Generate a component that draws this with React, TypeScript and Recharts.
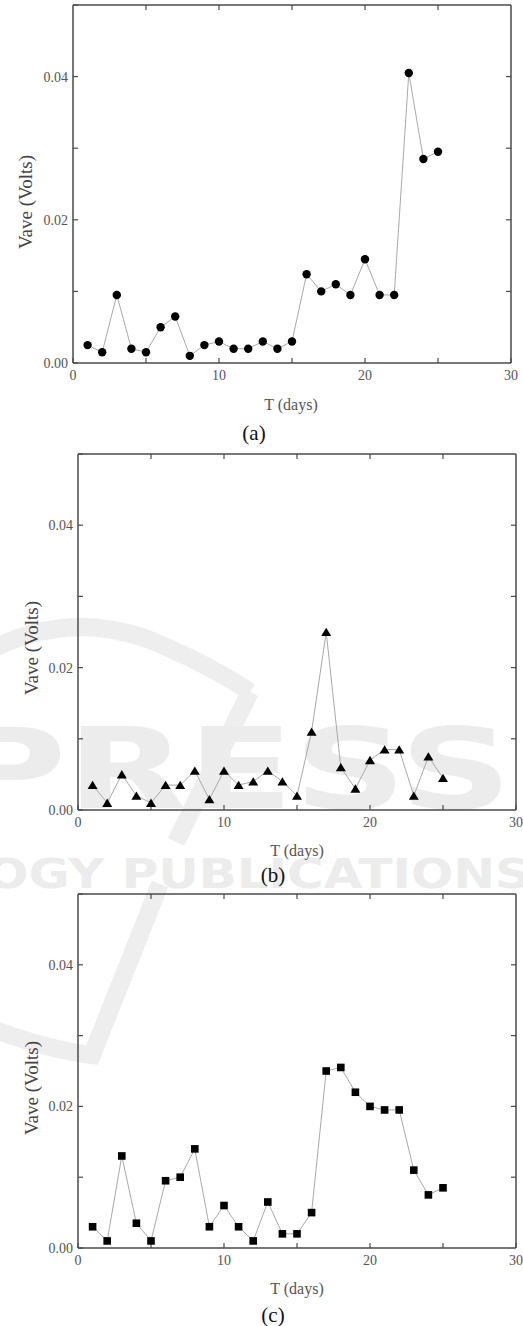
import React from 'react';
import { Line, LineChart, XAxis, YAxis } from 'recharts';

// sampling days and measured average voltage per sensor
const days = [1, 2, 3, 4, 5, 6, 7, 8, 9, 10, 11, 12, 13, 14, 15, 16, 17, 18, 19, 20, 21, 22, 23, 24, 25];
const vaveA = [0.0025, 0.0015, 0.0095, 0.002, 0.0015, 0.005, 0.0065, 0.001, 0.0025, 0.003, 0.002, 0.002, 0.003, 0.002, 0.003, 0.0124, 0.01, 0.011, 0.0095, 0.0145, 0.0095, 0.0095, 0.0405, 0.0285, 0.0295];
const vaveB = [0.0035, 0.001, 0.005, 0.002, 0.001, 0.0035, 0.0035, 0.0055, 0.0015, 0.0055, 0.0035, 0.004, 0.0055, 0.004, 0.002, 0.011, 0.025, 0.006, 0.003, 0.007, 0.0085, 0.0085, 0.002, 0.0075, 0.0045];
const vaveC = [0.003, 0.001, 0.013, 0.0035, 0.001, 0.0095, 0.01, 0.014, 0.003, 0.006, 0.003, 0.001, 0.0065, 0.002, 0.002, 0.005, 0.025, 0.0255, 0.022, 0.02, 0.0195, 0.0195, 0.011, 0.0075, 0.0085];

const xTicks = [0, 5, 10, 15, 20, 25, 30];
const xLabels = [0, 10, 20, 30];
const yTicks = [0, 0.01, 0.02, 0.03, 0.04, 0.05];
const yLabels = [0, 0.02, 0.04];

const SERIF = 'Liberation Serif, Times New Roman, serif';
const AXIS = '#4a4a4a';
const tickText = { fill: '#555', fontSize: 14, fontFamily: SERIF };

const fmtX = (v: number) => (xLabels.includes(v) ? String(v) : '');
const fmtY = (v: number) => (yLabels.some((l) => Math.abs(l - v) < 1e-9) ? v.toFixed(2) : '');

const CircleDot = (p: any) => <circle key={p.index} cx={p.cx} cy={p.cy} r={4.2} fill="#000" />;
const TriangleDot = (p: any) => (
  <path key={p.index} d={`M${p.cx},${p.cy - 4.3} L${p.cx + 5},${p.cy + 4} L${p.cx - 5},${p.cy + 4} Z`} fill="#000" />
);
const SquareDot = (p: any) => <rect key={p.index} x={p.cx - 3.8} y={p.cy - 3.8} width={7.6} height={7.6} fill="#000" />;

interface PanelProps {
  values: number[];
  dot: (p: any) => React.ReactElement;
  top: number;
  height: number;
  yAxisWidth: number;
  margin: { top: number; right: number; bottom: number; left: number };
}

const Panel: React.FC<PanelProps> = ({ values, dot, top, height, yAxisWidth, margin }) => {
  const data = days.map((t, i) => ({ t, v: values[i] }));
  return (
    <div style={{ position: 'absolute', left: 0, top, width: 523, height }}>
      <LineChart width={523} height={height} data={data} margin={margin}>
        <XAxis
          dataKey="t"
          type="number"
          domain={[0, 30]}
          ticks={xTicks}
          interval={0}
          tickFormatter={fmtX}
          tickSize={-5}
          tickMargin={12}
          height={30}
          tick={tickText}
          axisLine={{ stroke: AXIS, strokeWidth: 1.5 }}
          tickLine={{ stroke: AXIS, strokeWidth: 1.2 }}
        />
        <XAxis
          xAxisId="top"
          orientation="top"
          dataKey="t"
          type="number"
          domain={[0, 30]}
          ticks={[5, 10, 15, 20, 25]}
          interval={0}
          tickFormatter={() => ''}
          tickSize={-5}
          height={1}
          axisLine={{ stroke: AXIS, strokeWidth: 1.5 }}
          tickLine={{ stroke: AXIS, strokeWidth: 1.2 }}
        />
        <YAxis
          type="number"
          domain={[0, 0.05]}
          ticks={yTicks}
          interval={0}
          tickFormatter={fmtY}
          tickSize={-5}
          tickMargin={10}
          width={yAxisWidth}
          tick={tickText}
          axisLine={{ stroke: AXIS, strokeWidth: 1.5 }}
          tickLine={{ stroke: AXIS, strokeWidth: 1.2 }}
        />
        <YAxis
          yAxisId="right"
          orientation="right"
          type="number"
          domain={[0, 0.05]}
          ticks={[0.01, 0.02, 0.03, 0.04]}
          interval={0}
          tickFormatter={() => ''}
          tickSize={-5}
          width={1}
          axisLine={{ stroke: AXIS, strokeWidth: 1.5 }}
          tickLine={{ stroke: AXIS, strokeWidth: 1.2 }}
        />
        {/* invisible twin so the top/right frame axes get a domain */}
        <Line
          xAxisId="top"
          yAxisId="right"
          dataKey="v"
          stroke="none"
          dot={false}
          activeDot={false}
          legendType="none"
          isAnimationActive={false}
        />
        <Line
          type="linear"
          dataKey="v"
          stroke="#a9a9a9"
          strokeWidth={1}
          dot={dot}
          activeDot={false}
          isAnimationActive={false}
        />
      </LineChart>
    </div>
  );
};

const Caption: React.FC<{ x: number; y: number; size: number; color: string; rotate?: boolean; children: React.ReactNode }> = ({
  x,
  y,
  size,
  color,
  rotate,
  children,
}) => (
  <div
    style={{
      position: 'absolute',
      left: x,
      top: y,
      transform: `translate(-50%, -50%)${rotate ? ' rotate(-90deg)' : ''}`,
      fontFamily: SERIF,
      fontSize: size,
      lineHeight: `${size}px`,
      color,
      whiteSpace: 'nowrap',
    }}
  >
    {children}
  </div>
);

// faint publisher watermark that sits behind the figure in the scan
const Watermark = () => (
  <svg width={523} height={1326} style={{ position: 'absolute', left: 0, top: 0 }}>
    <g fill="none" stroke="#eeeeee" strokeWidth={18} strokeLinecap="butt">
      <path d="M -10 650 Q 70 610 150 640 Q 210 665 250 692" />
      <path d="M 250 692 L 176 842" />
      <path d="M 160 884 L 92 1055 Q 50 1050 -5 1030" />
    </g>
    <text x={-48} y={808} fontFamily="DejaVu Sans" fontWeight="bold" fontSize={112} fill="#ececec" textLength={560} lengthAdjust="spacingAndGlyphs">
      PRESS
    </text>
    <text x={-14} y={888} fontFamily="DejaVu Sans" fontWeight="bold" fontSize={40} fill="#ececec" textLength={545} lengthAdjust="spacingAndGlyphs">
      OGY PUBLICATIONS
    </text>
  </svg>
);

export default function App() {
  return (
    <div style={{ position: 'absolute', left: 0, top: 0, width: 523, height: 1326, background: '#fff', overflow: 'hidden' }}>
      <Watermark />
      <Panel values={vaveA} dot={CircleDot} top={0} height={445} yAxisWidth={73} margin={{ top: 4, right: 11, bottom: 52, left: 0 }} />
      <Panel values={vaveB} dot={TriangleDot} top={445} height={440} yAxisWidth={78} margin={{ top: 8, right: 6, bottom: 45, left: 0 }} />
      <Panel values={vaveC} dot={SquareDot} top={885} height={441} yAxisWidth={78} margin={{ top: 8, right: 6, bottom: 48, left: 0 }} />

      <Caption x={25} y={202} size={19} color="#444" rotate>Vave (Volts)</Caption>
      <Caption x={291} y={405} size={16} color="#555">T (days)</Caption>
      <Caption x={254} y={433} size={21} color="#111">(a)</Caption>

      <Caption x={31} y={648} size={19} color="#444" rotate>Vave (Volts)</Caption>
      <Caption x={297} y={851} size={16} color="#555">T (days)</Caption>
      <Caption x={273} y={875} size={21} color="#111">(b)</Caption>

      <Caption x={31} y={1088} size={19} color="#444" rotate>Vave (Volts)</Caption>
      <Caption x={297} y={1289} size={16} color="#555">T (days)</Caption>
      <Caption x={273} y={1315} size={21} color="#111">(c)</Caption>
    </div>
  );
}
